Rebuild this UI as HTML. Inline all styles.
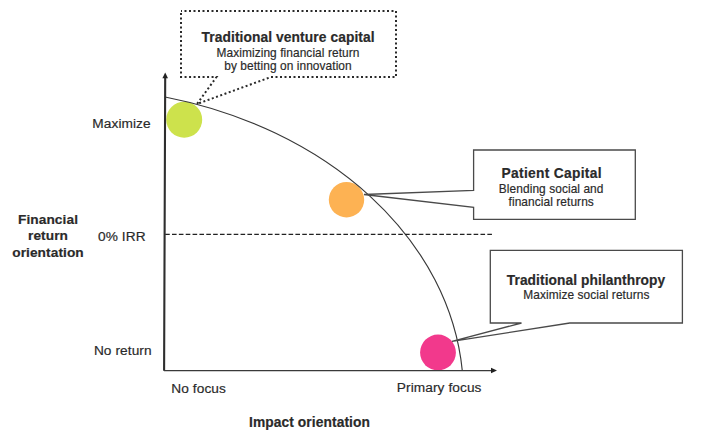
<!DOCTYPE html>
<html><head><meta charset="utf-8">
<style>
html,body{margin:0;padding:0;background:#fff;width:701px;height:448px;overflow:hidden}
svg{display:block}
text{font-family:"Liberation Sans",sans-serif;fill:#2a2a2a;stroke:#2a2a2a;stroke-width:0.18px;letter-spacing:0.08px}
.b{font-weight:bold}
</style></head><body>
<svg width="701" height="448" viewBox="0 0 701 448">
<!-- circles -->
<circle cx="184.2" cy="119.7" r="18" fill="#CDE24C"/>
<circle cx="346.5" cy="199.7" r="17.7" fill="#FDB253"/>
<circle cx="438" cy="352.5" r="17.9" fill="#F2398C"/>
<!-- curve -->
<path d="M165.1,96.99 A395.29,306.36 0 0 1 462.23,370.3" fill="none" stroke="#383838" stroke-width="1.15"/>
<!-- dashed 0% line -->
<line x1="165.15" y1="234.4" x2="492.5" y2="234.4" stroke="#222" stroke-width="1.3" stroke-dasharray="4.6 2.255"/>
<!-- axes -->
<path d="M165.2,77 L164.1,370" fill="none" stroke="#2e2e2e" stroke-width="2.1" stroke-linecap="round"/>
<line x1="164" y1="370.5" x2="491" y2="370.5" stroke="#3a3a3a" stroke-width="1.25"/>
<polygon points="165.2,72.6 162.4,78.2 168,78.2" fill="#222"/>

<polygon points="497,370.5 491,367.8 491,373.2" fill="#222"/>
<!-- callout 1 dotted -->
<path d="M181,11 H396 V77 H271 L197,104 L216.5,77 H181 Z" fill="none" stroke="#2a2a2a" stroke-width="2" stroke-dasharray="2 2.5" stroke-dashoffset="1"/>
<!-- callout 2 -->
<path d="M473.6,150 H635.3 V219.4 H473.6 V207.4 L364,194.5 L473.6,190.3 Z" fill="none" stroke="#4a4a4a" stroke-width="1.3"/>
<!-- callout 3 -->
<path d="M490.3,250.4 H682.4 V323 H569.8 L452,341.3 L521.5,323 H490.3 Z" fill="none" stroke="#4a4a4a" stroke-width="1.3"/>
<!-- texts -->
<text x="121.5" y="127.8" font-size="13.7" text-anchor="middle">Maximize</text>
<text x="121.8" y="241" font-size="13.7" text-anchor="middle">0% IRR</text>
<text x="122.8" y="355" font-size="13.7" text-anchor="middle">No return</text>
<text x="198.6" y="392.6" font-size="13.7" text-anchor="middle">No focus</text>
<text x="439.2" y="392.4" font-size="13.7" text-anchor="middle">Primary focus</text>
<text class="b" x="309.5" y="427" font-size="13.8" text-anchor="middle">Impact orientation</text>
<text class="b" x="48" y="223.8" font-size="13.7" text-anchor="middle">Financial</text>
<text class="b" x="48" y="240.3" font-size="13.7" text-anchor="middle">return</text>
<text class="b" x="48" y="257" font-size="13.7" text-anchor="middle">orientation</text>
<text class="b" x="288.1" y="41.8" font-size="13.8" text-anchor="middle">Traditional venture capital</text>
<text x="288" y="56.6" font-size="11.9" text-anchor="middle">Maximizing financial return</text>
<text x="288" y="69.5" font-size="11.9" text-anchor="middle">by betting on innovation</text>
<text class="b" x="551.7" y="177.8" font-size="13.8" style="letter-spacing:0.3px" text-anchor="middle">Patient Capital</text>
<text x="551.2" y="192.6" font-size="11.9" text-anchor="middle">Blending social and</text>
<text x="551.2" y="206" font-size="11.9" text-anchor="middle">financial returns</text>
<text class="b" x="586" y="284.8" font-size="13.75" text-anchor="middle">Traditional philanthropy</text>
<text x="586.4" y="299.2" font-size="11.9" text-anchor="middle">Maximize social returns</text>
</svg>
</body></html>
